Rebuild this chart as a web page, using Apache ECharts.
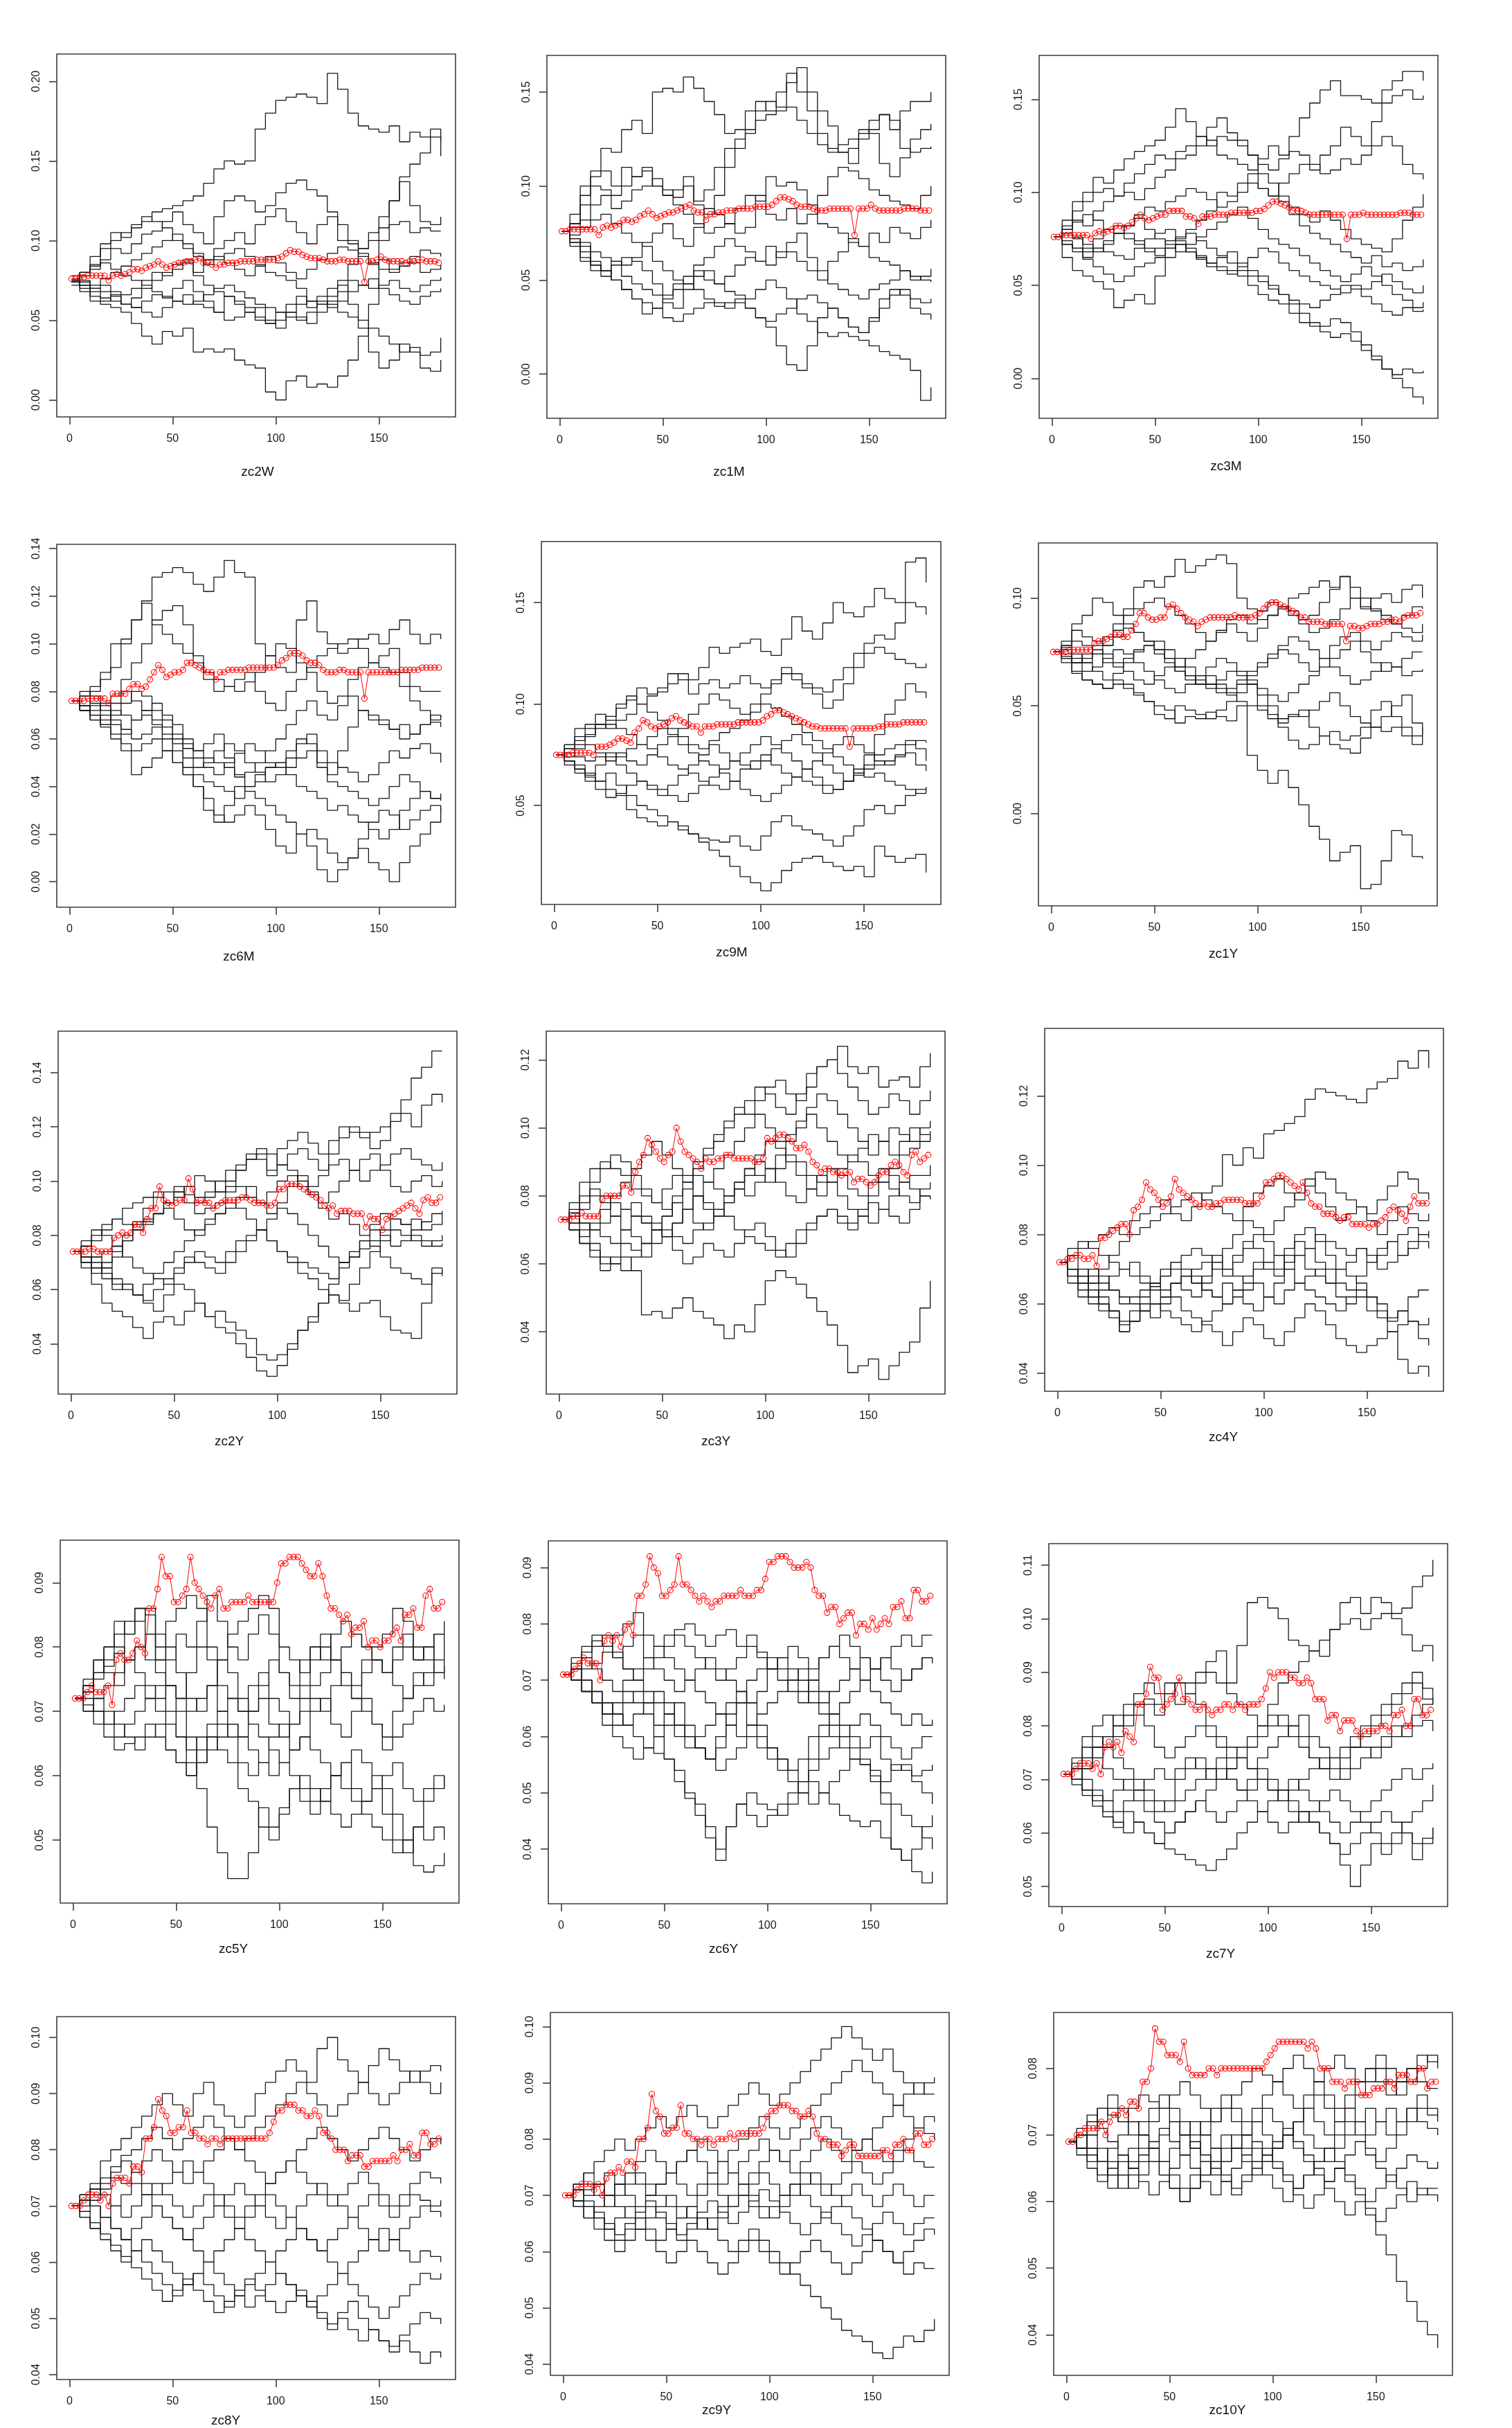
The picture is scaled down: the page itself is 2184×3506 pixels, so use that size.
<!DOCTYPE html>
<html><head><meta charset="utf-8">
<script src="https://cdn.jsdelivr.net/npm/echarts@6/dist/echarts.min.js"></script>
<style>html,body{margin:0;padding:0;background:#fff}#c{width:2184px;height:3506px}</style>
</head><body><div id="c"></div>
<script>
// x positions (time index) of the sampled step paths and of the red estimate
const STEP_X=[1,5,10,15,20,25,30,35,40,45,50,55,60,65,70,75,80,85,90,95,100,105,110,115,120,125,130,135,140,145,150,155,160,165,170,175,180];
const RED_X=[1,3,5,7,9,11,13,15,17,19,21,23,25,27,29,31,33,35,37,39,41,43,45,47,49,51,53,55,57,59,61,63,65,67,69,71,73,75,77,79,81,83,85,87,89,91,93,95,97,99,101,103,105,107,109,111,113,115,117,119,121,123,125,127,129,131,133,135,137,139,141,143,145,147,149,151,153,155,157,159,161,163,165,167,169,171,173,175,177,179];
const X_TICKS=[0,50,100,150];
// all rate values below are in thousandths (0.076 -> 76)

const zc2W_paths=[
[75,80,90,98,105,102,108,112,118,120,122,125,128,136,145,150,148,150,170,180,188,190,192,190,186,205,195,180,172,170,168,172,162,168,165,170,162],
[74,68,62,60,58,55,48,40,35,43,40,45,30,32,30,32,25,22,20,5,0,12,15,8,10,8,15,25,40,60,100,125,140,148,155,165,153],
[76,70,65,62,66,60,58,62,66,64,70,75,68,62,55,50,52,55,50,48,55,60,65,58,62,60,55,52,45,30,20,25,35,30,20,18,25],
[74,72,70,68,65,60,64,70,75,80,85,88,78,72,68,65,60,55,58,50,45,55,60,62,65,70,72,60,50,45,40,35,30,33,28,30,39],
[76,80,85,95,100,105,110,115,112,108,100,95,90,85,88,92,95,90,85,80,78,75,70,62,60,65,75,85,95,105,115,125,137,122,112,110,115],
[72,78,82,88,95,92,98,104,106,112,118,110,105,98,115,125,128,125,118,122,130,136,138,132,128,118,110,100,95,100,108,110,112,105,108,106,106],
[78,75,70,72,68,66,70,75,80,78,82,86,80,88,95,100,105,98,110,115,120,112,105,98,110,115,100,98,92,85,88,82,86,90,94,92,90],
[75,72,68,64,62,60,58,55,52,58,62,66,60,58,55,65,62,58,52,48,50,55,52,48,55,62,68,75,72,70,72,75,70,68,72,75,77],
[74,80,84,86,82,78,75,72,68,65,62,60,62,66,70,72,68,64,60,58,55,52,50,55,60,58,62,68,72,76,70,66,62,60,65,68,70],
[76,74,72,76,80,84,88,92,96,100,104,98,92,88,90,86,82,78,84,90,86,80,76,82,88,92,96,94,90,86,82,80,84,86,80,82,85]];
const zc2W_red=[76,76,77,77,78,78,78,78,78,75,78,79,78,79,80,82,82,81,83,84,85,87,85,83,84,85,86,86,87,87,88,89,86,86,85,83,85,85,86,86,86,87,87,87,87,88,88,88,88,88,89,90,92,94,93,93,91,90,89,89,89,88,87,87,87,88,88,87,87,87,87,74,87,87,88,90,88,87,87,87,87,86,87,87,88,88,87,87,87,86];
const zc2W_yTicks=[0,50,100,150,200];

const zc1M_paths=[
[76,85,100,108,120,118,130,135,128,150,152,150,158,152,145,138,128,130,140,145,140,150,160,150,140,128,120,118,120,128,130,138,135,120,118,120,121],
[76,80,95,100,98,95,100,105,110,100,95,98,105,90,85,95,110,120,130,140,145,142,155,163,150,140,132,118,112,125,135,138,130,140,145,145,150],
[76,78,82,90,95,88,92,98,100,104,98,94,100,92,98,110,120,125,128,135,138,140,142,135,128,122,118,122,125,130,128,112,105,115,125,130,133],
[76,72,70,65,62,60,58,62,70,75,80,72,68,78,88,85,80,75,78,95,85,82,88,80,85,95,105,110,108,104,98,95,92,90,88,95,100],
[76,70,65,58,55,60,52,48,45,42,38,35,45,52,55,48,44,42,40,45,50,46,40,32,28,22,20,22,20,18,15,12,10,8,2,-14,-7],
[76,72,68,60,55,50,45,40,38,35,30,28,32,35,38,36,38,40,35,30,25,15,5,2,15,30,35,30,25,22,30,40,45,42,35,32,29],
[76,80,90,105,108,100,110,105,108,100,95,90,85,80,75,78,80,88,95,92,105,100,102,98,90,80,78,75,70,68,75,70,78,75,72,78,82],
[76,70,60,55,52,58,62,60,55,48,42,45,48,55,50,48,52,58,62,60,68,62,65,60,55,50,60,65,72,68,62,60,58,55,50,52,56],
[76,68,62,58,55,50,45,40,32,35,40,48,52,58,62,68,72,68,65,60,58,65,70,75,62,55,48,45,42,40,45,48,50,55,52,50,49],
[76,74,78,82,85,80,75,70,68,60,55,50,48,45,40,38,35,38,35,30,28,32,35,40,42,38,35,30,25,22,28,35,42,45,40,38,40]];
const zc1M_red=[76,76,77,77,77,77,77,77,77,74,78,79,78,79,80,82,82,81,82,84,85,87,85,83,84,85,86,86,87,88,89,90,87,86,86,82,85,85,86,86,87,87,87,88,88,88,88,89,89,89,89,90,92,94,94,93,92,90,89,89,89,88,87,87,87,88,88,88,88,88,88,74,88,88,88,90,88,87,87,87,87,87,87,88,88,88,88,87,87,87];
const zc1M_yTicks=[0,50,100,150];

const zc3M_paths=[
[76,82,90,95,100,102,98,105,110,115,120,118,122,125,130,128,120,118,115,112,118,125,120,130,140,148,155,160,152,152,150,148,155,160,165,165,160],
[76,78,75,70,68,72,78,82,88,92,90,95,98,102,100,96,92,95,100,105,102,98,105,110,115,112,120,125,135,130,125,138,148,152,155,150,152],
[76,85,95,100,108,105,112,118,122,125,128,135,145,138,130,125,130,128,125,120,115,112,118,122,120,115,110,112,118,115,120,125,130,125,115,110,107],
[76,80,85,82,90,95,98,100,96,102,108,112,118,120,125,135,140,132,128,120,110,105,98,92,88,84,90,85,80,75,72,70,68,75,85,92,99],
[76,65,58,55,52,48,38,42,45,40,55,65,75,80,85,90,100,98,105,110,102,98,95,88,82,78,75,72,68,65,62,66,60,62,58,60,64],
[76,72,70,68,75,80,82,78,74,70,66,70,72,68,65,62,60,58,55,50,45,42,40,35,30,28,25,22,24,20,18,12,5,0,-5,-10,-14],
[76,80,76,72,70,68,66,64,70,75,78,80,74,70,66,62,65,68,62,58,55,50,45,40,35,30,28,32,30,25,15,10,5,2,5,3,4],
[76,74,70,64,60,56,52,55,60,62,65,70,72,68,64,60,58,56,60,65,70,68,62,58,55,52,50,48,46,50,48,52,56,52,48,46,50],
[76,80,84,88,85,80,78,82,86,80,75,72,68,72,76,80,84,88,92,86,80,75,72,70,66,62,58,55,52,56,60,55,50,45,42,38,41],
[76,72,68,65,70,74,78,75,72,68,70,74,76,78,74,70,66,62,58,55,52,48,45,42,40,38,42,45,50,48,44,40,36,34,38,36,37]];
const zc3M_red=[76,76,77,77,77,77,77,77,77,75,78,79,78,79,80,82,82,81,82,84,86,88,86,85,86,87,88,88,90,90,90,90,87,87,86,83,87,87,87,88,88,88,88,89,89,89,89,89,89,90,90,91,93,95,95,94,93,92,90,90,90,89,88,88,88,88,88,88,88,88,88,75,88,88,88,89,88,88,88,88,88,88,88,88,89,89,89,88,88,88];
const zc3M_yTicks=[0,50,100,150];

const zc6M_paths=[
[76,78,82,88,100,102,110,118,128,130,132,130,125,122,128,135,130,128,100,95,90,88,110,118,105,100,96,98,102,104,100,106,110,104,100,104,102],
[76,74,80,85,90,100,110,117,108,104,100,96,92,88,85,82,80,84,88,95,100,98,92,88,80,75,78,85,90,92,95,98,88,82,80,80,80],
[76,72,70,68,75,85,92,100,110,114,116,108,95,85,80,82,85,88,80,75,72,80,85,90,95,98,100,102,98,92,90,88,82,76,72,68,70],
[76,72,68,66,72,70,68,72,75,70,66,60,55,58,62,52,45,40,42,48,50,55,60,58,50,45,55,65,72,70,68,64,66,62,66,67,65],
[76,74,70,66,62,58,55,58,60,55,50,45,40,30,25,32,40,38,35,32,28,25,20,22,18,12,8,10,14,8,5,0,8,15,20,25,31],
[76,72,68,65,60,55,45,48,52,55,50,45,40,35,28,25,28,32,28,22,15,12,20,15,5,0,5,10,18,25,30,28,22,26,30,32,29],
[76,78,75,72,68,64,60,62,65,60,55,48,45,42,40,38,35,40,45,48,50,45,40,38,35,30,32,28,25,22,18,22,30,35,38,35,34],
[76,72,74,70,66,62,68,70,66,62,58,52,48,50,55,58,55,50,46,42,45,48,52,55,48,42,40,38,35,32,35,40,45,42,38,35,37],
[76,80,78,74,70,75,80,78,72,68,60,56,52,48,45,50,54,58,55,50,48,52,58,62,55,50,48,46,42,45,50,55,52,56,58,54,50],
[76,74,72,75,78,80,76,72,68,65,62,58,55,52,50,48,44,46,50,55,60,66,72,76,70,68,74,78,72,68,66,64,60,62,66,70,69]];
const zc6M_red=[76,76,76,76,77,77,77,77,77,75,79,79,79,79,81,83,83,81,82,85,88,91,89,86,87,88,88,89,92,92,91,90,89,88,88,85,88,88,89,89,89,89,89,90,90,90,90,90,90,90,91,93,94,96,96,96,95,93,92,92,91,89,88,88,88,89,89,88,88,88,88,77,88,88,88,88,88,88,88,88,89,89,89,89,89,90,90,90,90,90];
const zc6M_yTicks=[0,20,40,60,80,100,120,140];

const zc9M_paths=[
[75,80,88,90,95,92,98,102,108,105,106,110,115,112,118,128,125,128,130,132,126,124,132,143,136,132,140,150,145,143,148,157,152,150,170,172,160],
[75,78,82,85,90,88,92,95,100,104,108,115,112,105,110,112,108,110,114,110,108,112,118,115,110,108,106,112,118,125,130,134,132,140,150,148,144],
[75,72,68,65,70,74,76,72,70,75,80,84,88,95,100,105,102,98,95,100,105,110,115,112,108,105,98,102,110,118,125,128,125,122,120,118,120],
[75,70,66,62,58,54,56,60,62,58,55,60,65,70,75,80,76,72,70,68,72,78,82,85,80,76,70,66,62,68,75,85,95,102,110,106,103],
[75,72,68,64,62,66,60,55,50,48,45,42,40,36,32,28,25,20,15,12,8,12,18,22,24,25,22,20,18,20,15,30,25,22,24,26,17],
[75,72,70,66,62,58,55,48,44,42,40,42,38,36,34,33,32,35,30,28,35,42,45,40,38,36,33,30,35,40,48,50,46,50,55,58,59],
[75,78,80,84,88,90,88,85,80,78,74,70,68,66,62,60,58,62,68,72,75,70,66,64,62,60,56,58,62,65,68,70,72,74,76,70,67],
[75,76,74,72,74,76,70,66,62,60,58,55,52,56,60,64,68,72,76,80,84,80,76,72,68,64,60,58,62,66,70,75,78,80,82,78,72],
[75,74,78,80,76,72,74,78,80,84,88,85,80,76,72,70,66,62,58,55,52,56,60,64,68,72,76,80,84,80,76,72,70,75,80,82,81],
[75,80,84,88,90,94,100,104,100,96,92,88,84,80,78,82,86,88,92,96,100,98,94,90,86,82,78,74,70,66,64,66,62,60,58,56,59]];
const zc9M_red=[75,75,75,75,76,76,76,76,76,75,79,79,79,80,81,83,83,82,81,86,88,92,91,89,88,89,90,91,93,94,92,91,90,89,89,86,89,89,89,90,90,90,90,90,91,91,91,91,91,91,92,94,95,97,97,96,95,94,93,92,91,90,89,89,88,88,88,88,88,88,88,79,88,88,88,88,88,88,89,89,90,90,90,90,91,91,91,91,91,91];
const zc9M_yTicks=[50,100,150];

const zc1Y_paths=[
[75,78,85,82,80,78,85,95,105,108,105,110,118,112,115,118,120,116,100,95,90,92,95,100,102,105,108,105,110,100,95,100,102,98,104,106,100],
[75,72,65,62,60,58,60,58,55,52,50,48,42,45,44,47,45,43,50,27,20,14,20,12,4,-6,-12,-22,-18,-15,-35,-33,-22,-8,-10,-20,-21],
[75,80,88,92,100,98,92,88,84,80,76,72,68,64,60,58,62,66,64,60,55,50,42,45,48,40,36,32,30,28,35,40,45,50,55,42,37],
[75,70,66,62,60,58,62,60,56,52,46,44,50,48,46,44,48,52,56,60,50,44,40,34,30,32,36,38,34,36,40,48,52,45,40,36,40],
[75,78,74,70,66,62,65,70,75,78,80,76,72,68,64,60,58,55,52,50,48,46,44,46,45,48,52,56,50,45,42,40,38,40,36,32,36],
[75,72,70,74,78,82,88,92,95,98,100,96,92,88,84,80,85,90,92,88,94,98,96,92,88,84,86,90,95,100,96,94,90,88,92,96,95],
[75,76,72,70,74,78,82,86,84,80,76,72,68,72,76,80,84,88,84,80,86,92,96,94,90,92,98,104,110,105,100,95,92,88,86,84,88],
[75,74,70,66,68,72,76,74,70,66,62,58,56,60,64,68,72,70,66,62,58,55,52,56,60,64,68,72,76,80,75,70,66,68,72,75,75],
[75,77,80,78,74,70,68,72,76,78,74,70,66,64,62,60,56,58,62,66,70,74,78,82,80,76,72,68,64,60,62,66,70,68,64,66,67],
[75,73,70,72,76,74,70,66,62,60,64,68,66,62,60,64,60,56,60,64,68,72,76,74,70,66,72,78,82,84,80,76,80,84,82,80,83]];
const zc1Y_red=[75,75,75,75,76,76,76,76,76,76,79,80,80,81,82,83,83,82,82,85,88,93,93,91,90,90,91,91,96,97,95,93,91,90,89,87,89,90,91,91,91,91,91,91,92,91,91,91,91,92,93,95,97,98,98,97,96,95,94,93,91,91,89,89,89,89,88,88,88,88,88,80,87,87,86,86,87,88,88,88,89,89,90,90,89,91,92,92,92,93];
const zc1Y_yTicks=[0,50,100];

const zc2Y_paths=[
[74,72,68,70,74,78,82,85,88,92,96,98,94,96,100,104,106,108,110,104,112,115,118,114,110,115,120,118,116,118,120,125,130,138,142,148,148],
[74,76,80,84,86,90,92,94,96,92,94,98,102,100,96,98,104,110,108,102,106,110,112,108,104,110,116,120,118,112,115,122,125,120,128,132,129],
[74,70,66,68,72,78,85,90,94,96,98,95,92,94,96,100,104,108,112,110,106,104,100,98,102,106,108,104,100,104,106,110,112,108,106,104,107],
[74,72,70,66,62,60,58,62,66,70,74,78,82,86,88,90,94,98,92,88,92,98,102,96,92,96,100,104,108,110,104,98,96,100,102,98,100],
[74,68,62,55,52,50,46,42,48,50,47,52,55,50,46,44,40,35,30,28,32,38,45,48,55,62,68,72,78,82,80,76,78,82,85,88,89],
[74,72,68,64,60,62,58,55,52,58,62,60,55,50,52,48,45,42,36,34,36,40,45,50,55,58,55,52,55,56,50,45,44,42,55,68,65],
[74,76,72,68,64,62,58,56,60,64,68,72,70,68,66,70,74,78,82,78,74,70,66,64,60,58,56,62,68,74,78,82,80,78,76,78,80],
[74,78,82,80,76,72,68,66,64,62,66,70,74,72,70,74,78,80,82,86,90,88,84,80,76,72,70,72,75,78,82,86,84,80,78,76,77],
[74,70,72,74,76,80,84,86,88,90,86,82,80,84,88,92,90,86,82,78,74,72,70,68,66,64,70,74,78,76,72,68,66,64,62,66,67],
[74,76,78,82,86,84,82,84,88,92,96,92,88,90,92,96,98,94,92,96,100,102,98,95,90,86,88,84,80,84,88,86,84,86,82,84,88]];
const zc2Y_red=[74,74,74,74,75,75,74,74,74,74,79,80,81,80,81,84,84,81,86,90,90,98,93,92,91,92,93,93,101,97,92,93,92,92,90,91,92,93,93,93,93,94,94,93,92,92,92,91,91,92,97,97,99,99,99,98,97,96,95,94,93,91,90,91,88,89,89,89,88,88,88,83,87,86,86,82,86,87,88,89,90,91,92,90,88,93,94,92,92,94];
const zc2Y_yTicks=[40,60,80,100,120,140];

const zc3Y_paths=[
[73,76,80,84,88,92,90,86,82,78,76,80,84,88,92,96,100,104,108,112,110,106,104,110,116,118,120,124,118,116,118,112,114,115,112,118,122],
[73,70,68,72,76,80,84,88,92,96,92,88,86,90,94,98,102,106,104,108,112,114,110,108,112,118,120,116,112,108,104,106,110,108,104,108,111],
[73,75,78,82,80,78,76,74,72,70,74,78,76,80,84,88,92,96,100,104,100,96,98,102,106,110,108,104,100,96,92,96,100,98,96,100,102],
[73,72,70,66,62,60,58,62,66,70,68,72,76,72,70,74,78,82,80,84,88,92,96,100,104,100,96,92,90,94,98,96,92,96,100,98,99],
[73,70,66,62,58,60,62,58,45,46,44,47,50,46,44,42,38,42,40,48,55,58,56,54,50,46,42,36,28,30,32,26,30,34,37,47,55],
[73,70,66,64,60,62,66,64,62,66,70,68,66,70,72,76,74,70,68,66,64,62,66,70,72,74,76,72,70,74,78,76,74,72,76,80,80],
[73,75,72,70,68,66,70,74,72,70,68,64,60,62,66,64,62,66,70,72,68,64,62,66,70,74,76,74,72,76,80,84,82,80,78,82,84],
[73,78,84,88,90,88,86,82,80,78,82,86,84,80,76,74,78,82,86,90,88,84,80,78,82,86,84,80,76,74,72,76,80,84,86,86,89],
[73,72,76,80,78,74,70,68,66,70,74,78,82,86,84,82,80,84,88,92,96,94,90,86,82,80,84,88,92,90,86,84,88,92,94,96,98],
[73,74,72,70,72,74,76,78,74,72,68,72,76,80,78,76,80,84,88,86,84,88,92,90,86,84,88,86,82,80,84,88,86,84,82,80,79]];
const zc3Y_red=[73,73,73,74,74,75,74,74,74,74,79,80,80,80,80,83,83,81,87,90,92,97,95,93,91,90,92,93,100,96,93,92,91,90,88,91,90,90,91,91,92,92,91,91,91,91,91,90,90,91,97,96,97,98,98,97,96,94,94,95,93,90,89,87,88,88,87,87,86,87,87,84,85,85,84,83,84,86,87,87,89,90,89,87,86,92,93,90,91,92];
const zc3Y_yTicks=[40,60,80,100,120];

const zc4Y_paths=[
[72,74,76,78,80,82,80,84,86,88,90,86,84,88,92,94,103,100,105,102,109,110,112,114,119,122,121,120,119,118,122,124,125,130,128,133,128],
[72,70,68,66,70,74,78,80,82,84,86,88,90,92,90,88,86,84,88,92,94,96,92,90,94,98,96,92,90,88,86,90,94,98,96,92,90],
[72,68,64,62,60,58,55,58,62,66,70,72,70,68,66,72,76,80,84,82,80,84,88,92,96,92,88,84,86,88,84,80,84,88,86,84,86],
[72,66,62,60,58,56,52,55,58,60,62,66,64,62,68,72,70,74,78,76,72,70,74,78,76,80,78,76,74,76,72,74,78,80,82,80,81],
[72,74,70,68,66,64,60,62,64,66,68,70,68,66,64,62,60,64,68,72,70,68,72,74,70,68,66,70,72,76,74,70,72,74,76,78,76],
[72,70,68,64,60,58,54,55,58,60,58,56,54,52,55,58,60,62,64,66,62,60,64,66,68,70,66,62,60,62,58,56,55,58,62,64,64],
[72,70,66,62,64,68,70,72,68,66,64,66,68,70,72,74,70,68,66,70,72,74,70,66,64,62,60,58,62,64,62,58,52,44,40,42,39],
[72,68,66,70,68,64,62,60,58,56,60,62,58,56,54,52,48,52,56,54,50,48,52,56,60,58,54,50,48,46,48,50,52,54,55,50,48],
[72,70,68,66,62,58,52,55,60,65,68,72,74,76,74,70,68,72,76,80,78,74,76,80,82,78,74,70,68,66,62,60,56,58,55,54,56],
[72,76,78,76,74,72,70,68,66,64,62,66,68,66,64,62,66,64,60,58,62,66,70,74,76,72,70,66,64,68,72,76,78,74,78,80,79]];
const zc4Y_red=[72,72,73,73,74,74,73,73,74,71,79,79,80,81,82,83,83,80,87,88,90,95,93,92,90,88,89,91,96,93,92,91,90,89,88,89,88,88,89,89,90,90,90,90,90,89,89,89,89,91,95,95,96,97,97,96,95,94,93,95,92,89,88,88,86,86,86,85,84,85,85,83,83,83,83,82,83,83,84,85,87,88,87,86,84,88,91,89,89,89];
const zc4Y_yTicks=[40,60,80,100,120];

const zc5Y_paths=[
[72,74,78,80,84,82,86,85,80,84,86,88,86,80,78,82,84,86,88,86,80,78,76,80,78,82,84,82,80,78,76,80,82,78,80,82,84],
[72,73,76,80,82,84,86,82,78,80,76,72,70,74,78,76,72,70,74,78,76,72,74,78,80,78,76,74,78,80,82,86,84,80,78,82,78],
[72,75,78,76,74,78,80,78,76,74,72,76,80,78,74,72,70,74,76,72,70,68,72,74,76,78,74,72,76,78,76,74,72,74,76,78,76],
[72,70,72,74,76,78,80,82,78,74,72,70,72,74,70,68,66,70,72,68,66,68,70,72,70,74,76,72,70,68,66,70,72,76,74,76,75],
[72,71,70,68,66,68,70,72,74,70,66,62,64,66,68,66,62,60,62,66,68,64,66,70,72,68,66,70,72,68,64,66,68,70,72,70,71],
[72,74,76,78,80,78,76,74,72,74,70,66,58,52,48,44,44,48,55,52,55,58,60,58,56,54,52,54,56,60,58,54,50,52,56,58,60],
[72,70,68,66,64,65,66,68,66,64,62,60,62,66,64,62,58,56,52,50,54,58,56,54,56,60,62,58,56,58,60,62,58,56,58,60,58],
[72,72,70,68,70,72,74,72,70,68,66,64,66,68,70,72,70,68,66,64,62,60,58,56,58,60,62,64,62,58,54,50,48,52,50,52,50],
[72,74,72,70,68,66,64,66,68,64,62,60,62,64,66,68,66,64,62,60,62,64,66,64,62,60,58,56,54,52,50,48,50,46,45,46,48],
[72,73,75,77,79,82,84,86,82,78,82,80,84,88,84,80,78,82,85,82,76,74,78,80,82,78,80,82,80,78,76,78,80,78,80,76,77]];
const zc5Y_red=[72,72,72,73,74,73,73,73,74,71,78,79,78,78,79,81,80,79,86,86,89,94,91,91,87,87,88,89,94,90,89,88,87,86,88,89,86,86,87,87,87,87,88,87,87,87,87,87,87,90,93,93,94,94,94,93,92,91,91,93,91,88,86,86,85,84,85,82,83,83,84,80,81,81,80,81,81,82,83,81,85,85,86,83,83,88,89,86,86,87];
const zc5Y_yTicks=[50,60,70,80,90];

const zc6Y_paths=[
[71,74,76,78,76,78,80,82,78,76,78,79,80,78,76,78,79,76,78,75,72,74,76,74,72,74,76,78,76,74,72,74,76,78,76,78,78],
[71,72,74,76,78,75,72,70,72,74,76,78,76,74,72,70,72,74,76,74,72,70,68,66,70,74,76,74,72,70,72,74,72,70,72,74,74],
[71,70,72,73,75,74,76,78,74,72,70,68,70,72,74,72,70,68,66,68,72,74,72,70,68,66,68,70,72,74,72,70,68,70,72,74,73],
[71,70,68,66,64,66,68,66,64,62,64,66,62,58,56,60,64,66,62,60,58,56,54,56,60,62,64,66,68,70,68,66,64,62,64,62,63],
[71,72,70,68,66,64,62,60,58,57,56,54,50,48,44,40,44,48,46,44,46,48,50,52,54,56,58,60,62,64,62,60,58,56,58,60,60],
[71,70,68,66,64,62,66,68,66,60,56,52,49,46,42,38,44,48,50,48,47,46,48,50,52,50,48,46,45,44,45,42,40,38,40,44,46],
[71,72,70,68,66,64,62,64,66,68,66,62,60,58,56,54,56,58,60,58,56,54,52,50,48,50,52,54,56,55,53,52,55,54,52,50,48],
[71,70,68,66,62,60,58,56,58,60,62,60,58,60,62,64,66,68,66,62,58,56,54,52,56,60,62,60,58,56,54,48,40,38,36,34,36],
[71,72,74,72,70,68,70,72,74,76,74,72,70,68,66,64,62,60,62,64,66,68,70,72,70,68,64,62,60,58,60,56,54,55,53,54,55],
[71,73,75,77,76,74,72,70,68,66,64,62,60,58,56,58,62,66,70,72,74,72,70,68,66,64,60,58,56,55,52,50,48,46,44,42,40]];
const zc6Y_red=[71,71,71,72,73,74,73,73,73,70,77,78,77,78,76,79,80,78,85,85,87,92,90,89,85,85,86,87,92,87,87,86,85,84,85,84,83,84,84,85,85,85,85,86,85,85,85,86,86,88,91,91,92,92,92,91,90,90,90,91,90,86,85,85,82,83,83,80,81,82,82,78,80,80,79,81,79,80,81,80,83,83,84,81,81,86,86,84,84,85];
const zc6Y_yTicks=[40,50,60,70,80,90];

const zc7Y_paths=[
[71,74,78,80,82,80,82,84,85,84,86,88,88,90,92,94,88,95,103,104,102,100,96,95,94,93,98,103,104,101,104,103,101,102,106,108,111],
[71,72,74,76,78,82,84,86,88,86,88,84,86,88,90,88,86,84,82,80,84,88,90,92,94,96,98,99,100,98,100,101,100,97,94,95,92],
[71,70,72,74,76,78,80,82,84,82,86,88,86,84,80,78,76,74,72,74,76,78,80,82,78,76,74,72,76,80,82,84,86,88,90,87,86],
[71,70,68,67,66,68,70,68,66,64,66,70,72,74,72,70,72,74,76,78,80,82,80,78,74,72,70,74,76,78,80,82,84,86,88,85,84],
[71,69,67,65,63,61,64,62,60,58,60,62,64,66,68,70,72,74,72,70,68,66,68,70,72,74,72,70,72,74,76,78,80,78,80,81,79],
[71,70,68,66,64,62,60,62,60,58,57,56,55,54,53,55,57,60,62,64,66,68,70,68,66,64,62,60,62,64,66,68,70,72,70,72,73],
[71,72,70,68,66,64,66,68,70,72,70,72,74,72,70,72,70,68,70,72,70,68,66,64,62,60,58,54,50,54,58,56,58,60,55,58,61],
[71,73,76,78,76,74,72,70,68,66,64,66,68,70,72,74,70,68,66,64,62,60,62,64,62,60,58,56,58,60,62,64,62,60,58,59,61],
[71,70,72,74,72,70,68,66,64,62,60,62,64,66,64,62,64,66,68,70,68,66,64,62,64,66,68,66,64,62,60,58,60,62,64,66,69],
[71,72,74,76,78,80,82,84,80,76,74,76,78,80,78,76,74,76,78,80,82,80,78,76,74,72,74,76,78,76,74,76,78,80,82,84,86]];
const zc7Y_red=[71,71,71,72,73,73,73,72,73,71,76,77,76,77,75,79,78,77,84,84,86,91,89,89,83,84,85,86,89,85,85,84,83,83,84,83,82,83,83,84,84,83,84,84,83,84,84,84,85,87,90,89,90,90,90,89,89,88,88,89,88,85,85,85,81,82,82,79,81,81,81,79,78,79,79,79,79,80,80,79,82,82,83,80,80,85,85,82,82,83];
const zc7Y_yTicks=[50,60,70,80,90,100,110];

const zc8Y_paths=[
[70,72,74,78,80,82,84,86,88,90,88,86,90,92,88,86,84,86,90,92,94,96,94,92,98,100,96,94,92,95,98,96,94,92,94,95,94],
[70,71,73,75,77,79,80,82,84,82,80,82,84,86,84,82,80,82,84,86,88,90,92,90,88,86,88,90,92,90,88,90,92,94,92,90,92],
[70,69,71,73,75,74,76,78,80,78,76,74,76,78,80,82,80,78,76,74,76,78,80,82,84,82,80,78,80,82,84,82,80,78,80,82,81],
[70,68,66,68,70,72,74,72,70,68,66,64,66,68,70,72,74,72,70,68,66,68,70,72,74,72,70,68,70,72,70,68,70,72,71,70,71],
[70,68,66,64,62,60,62,64,62,60,58,56,58,60,62,64,66,64,62,60,62,64,66,64,62,60,58,60,62,64,66,64,62,60,62,61,60],
[70,71,70,68,66,64,62,60,58,56,54,56,58,56,54,52,54,56,58,60,58,56,54,52,54,56,58,56,54,52,50,52,54,56,58,57,58],
[70,69,67,65,63,61,59,57,55,53,55,57,55,53,51,53,55,57,55,53,51,53,55,53,51,49,51,53,50,48,46,45,47,49,51,50,49],
[70,72,70,68,66,64,66,68,70,68,66,64,62,60,58,56,54,52,54,56,58,56,54,52,50,48,50,48,46,48,46,44,46,44,42,44,43],
[70,71,73,72,70,68,70,72,74,72,70,68,70,72,70,68,66,68,70,72,70,68,66,64,62,64,66,68,66,64,62,64,66,68,70,69,68],
[70,70,72,74,76,78,76,74,72,74,76,78,76,74,72,70,68,70,72,74,76,78,76,74,72,70,72,74,76,74,72,70,72,74,76,75,74]];
const zc8Y_red=[70,70,70,71,72,72,72,71,72,70,74,75,75,75,74,77,77,76,82,82,84,89,87,86,83,83,84,84,87,83,83,82,82,81,82,82,81,82,82,82,82,82,82,82,82,82,82,82,83,85,87,87,88,88,88,87,87,86,86,87,86,83,83,82,80,80,80,78,79,79,79,77,77,78,78,78,78,78,79,78,80,80,81,79,79,83,83,81,81,82];
const zc8Y_yTicks=[40,50,60,70,80,90,100];

const zc9Y_paths=[
[70,72,74,76,78,80,78,80,82,84,82,84,86,84,82,84,86,88,90,88,86,88,90,92,94,96,98,100,98,96,94,96,92,90,88,90,91],
[70,71,70,72,74,72,74,76,78,76,74,76,78,80,78,76,78,80,82,84,82,80,82,84,86,88,90,92,94,92,90,88,86,88,90,88,88],
[70,69,71,72,70,72,74,72,70,72,74,76,78,76,74,72,74,76,78,80,78,76,78,80,82,84,82,80,78,80,82,84,86,84,82,84,83],
[70,68,66,68,70,72,70,68,70,72,74,72,70,72,74,76,74,72,74,76,78,76,74,76,78,80,78,76,78,80,78,76,78,80,82,81,80],
[70,71,72,70,68,70,72,74,72,70,68,66,68,70,72,70,68,70,72,74,72,70,72,74,72,70,72,74,76,74,72,74,76,78,76,75,75],
[70,69,68,66,64,66,68,66,64,62,64,66,68,66,64,66,68,70,68,66,68,70,72,70,68,66,68,70,72,70,68,70,72,70,68,70,70],
[70,71,69,67,65,63,65,67,69,67,65,63,65,67,69,67,65,67,69,71,69,67,65,63,65,67,65,63,61,63,65,67,65,63,65,66,66],
[70,68,66,64,62,60,62,64,62,60,58,60,62,60,58,56,58,60,62,60,58,56,58,60,62,60,58,56,58,60,62,60,58,56,58,57,57],
[70,69,68,66,64,62,64,66,68,66,64,62,64,66,64,62,60,62,64,62,60,58,56,54,52,50,48,46,45,44,42,41,43,45,44,46,48],
[70,72,74,72,70,68,66,64,66,68,70,68,66,64,66,68,70,72,70,68,66,68,70,72,74,72,70,68,66,64,62,60,58,60,62,64,63]];
const zc9Y_red=[70,70,70,71,72,72,72,71,72,70,73,74,74,75,74,76,76,75,80,80,82,88,85,84,81,81,82,82,86,81,81,80,80,79,80,80,79,80,80,80,81,80,81,81,81,81,81,81,82,84,85,85,86,86,86,85,85,84,84,85,84,81,80,80,79,79,79,77,78,79,79,77,77,77,77,77,77,78,78,77,79,79,80,78,78,81,81,79,79,80];
const zc9Y_yTicks=[40,50,60,70,80,90,100];

const zc10Y_paths=[
[69,70,72,74,73,72,74,76,75,74,76,78,76,74,72,74,76,78,80,79,78,80,82,80,78,80,82,80,78,80,82,80,78,80,82,81,80],
[69,68,70,72,74,72,70,72,74,76,74,72,70,72,74,76,74,72,74,76,78,76,74,76,78,76,74,76,78,80,78,76,78,80,78,77,77],
[69,70,68,66,64,66,68,70,68,66,68,70,72,70,68,66,68,70,72,70,68,70,72,74,72,70,72,74,72,70,72,74,72,74,76,74,73],
[69,68,67,66,68,70,72,70,68,66,64,62,64,66,68,70,68,66,64,66,68,70,72,70,68,66,68,70,72,74,72,70,72,74,72,71,70],
[69,67,65,63,65,67,65,63,61,63,65,67,69,67,65,63,61,63,65,67,69,71,69,67,65,63,65,67,69,67,65,63,65,67,66,65,66],
[69,70,68,66,64,62,64,66,68,70,72,70,68,66,64,66,68,70,72,74,72,70,68,66,64,62,60,58,60,58,55,52,48,45,42,40,38],
[69,71,73,71,69,67,65,67,69,71,69,67,65,63,61,63,65,67,69,67,65,63,61,59,61,63,65,63,61,59,57,59,61,63,61,62,62],
[69,68,66,64,62,64,66,68,66,64,62,60,62,64,66,68,70,68,66,64,62,60,62,64,66,68,70,72,70,68,66,68,70,72,74,73,72],
[69,70,72,74,76,74,72,70,72,74,72,70,68,70,72,74,72,70,68,66,68,70,72,74,76,74,72,74,76,78,80,78,76,78,80,82,81],
[69,68,70,68,66,64,62,64,66,64,62,60,62,64,66,64,62,64,66,68,66,64,62,64,66,68,66,64,62,60,62,64,62,60,62,61,60]];
const zc10Y_red=[69,69,70,70,71,71,71,71,72,70,72,73,73,74,73,75,75,74,78,78,80,86,84,84,82,82,82,81,84,80,79,79,79,79,80,80,79,80,80,80,80,80,80,80,80,80,80,80,81,82,83,84,84,84,84,84,84,84,83,84,83,80,80,80,78,78,78,77,78,78,78,76,76,76,77,77,77,78,78,77,79,79,79,78,78,80,80,77,78,78];
const zc10Y_yTicks=[40,50,60,70,80];

// layout: plot box [left, top, width, height] in px, y range (thousandths), label centre
const PANELS=[
 {name:'zc2W', paths:zc2W_paths, red:zc2W_red, yTicks:zc2W_yTicks, box:[82,78,576,524], y:[-10.65,217.1], t:[372,682]},
 {name:'zc1M', paths:zc1M_paths, red:zc1M_red, yTicks:zc1M_yTicks, box:[790,80,576,524], y:[-23.5,169.5], t:[1053,682]},
 {name:'zc3M', paths:zc3M_paths, red:zc3M_red, yTicks:zc3M_yTicks, box:[1501,80,576,524], y:[-21.46,173.6], t:[1771,674]},
 {name:'zc6M', paths:zc6M_paths, red:zc6M_red, yTicks:zc6M_yTicks, box:[82,786,576,524], y:[-10.73,141.8], t:[345,1382]},
 {name:'zc9M', paths:zc9M_paths, red:zc9M_red, yTicks:zc9M_yTicks, box:[782,782,577,524], y:[1.28,180.1], t:[1057,1376]},
 {name:'zc1Y', paths:zc1Y_paths, red:zc1Y_red, yTicks:zc1Y_yTicks, box:[1500,784,576,524], y:[-42.9,125.6], t:[1767,1378]},
 {name:'zc2Y', paths:zc2Y_paths, red:zc2Y_red, yTicks:zc2Y_yTicks, box:[84,1489,576,524], y:[21.47,155.3], t:[331,2082]},
 {name:'zc3Y', paths:zc3Y_paths, red:zc3Y_red, yTicks:zc3Y_yTicks, box:[789,1489,576,524], y:[21.68,128.45], t:[1034,2082]},
 {name:'zc4Y', paths:zc4Y_paths, red:zc4Y_red, yTicks:zc4Y_yTicks, box:[1509,1485,576,524], y:[34.79,139.44], t:[1767,2076]},
 {name:'zc5Y', paths:zc5Y_paths, red:zc5Y_red, yTicks:zc5Y_yTicks, box:[87,2224,576,524], y:[40.18,96.61], t:[337,2815]},
 {name:'zc6Y', paths:zc6Y_paths, red:zc6Y_red, yTicks:zc6Y_yTicks, box:[792,2225,576,524], y:[30.3,94.75], t:[1045,2815]},
 {name:'zc7Y', paths:zc7Y_paths, red:zc7Y_red, yTicks:zc7Y_yTicks, box:[1515,2229,576,524], y:[46.25,114.03], t:[1763,2822]},
 {name:'zc8Y', paths:zc8Y_paths, red:zc8Y_red, yTicks:zc8Y_yTicks, box:[82,2912,576,524], y:[39.1,103.7], t:[326,3496]},
 {name:'zc9Y', paths:zc9Y_paths, red:zc9Y_red, yTicks:zc9Y_yTicks, box:[795,2906,576,524], y:[38.0,102.5], t:[1035,3481]},
 {name:'zc10Y', paths:zc10Y_paths, red:zc10Y_red, yTicks:zc10Y_yTicks, box:[1522,2906,576,524], y:[33.9,88.4], t:[1773,3481]}
];

const FONT='"Liberation Sans", Arial, Helvetica, sans-serif';
const AXIS_COLOR='#3c3c3c';
const grid=[], xAxis=[], yAxis=[], series=[], graphic=[];
PANELS.forEach((p,i)=>{
  grid.push({left:p.box[0], top:p.box[1], width:p.box[2], height:p.box[3], show:true, borderColor:AXIS_COLOR, borderWidth:1.6, backgroundColor:'transparent'});
  xAxis.push({type:'value', gridIndex:i, position:'bottom', min:-6.16, max:187.16, axisLine:{show:false, onZero:false}, splitLine:{show:false},
    axisTick:{show:true, customValues:X_TICKS, length:11, lineStyle:{color:AXIS_COLOR, width:1.6}},
    axisLabel:{customValues:X_TICKS, fontSize:16, color:'#1a1a1a', margin:24, fontFamily:FONT}});
  yAxis.push({type:'value', gridIndex:i, position:'left', min:p.y[0], max:p.y[1], axisLine:{show:false, onZero:false}, splitLine:{show:false},
    axisTick:{show:true, customValues:p.yTicks, length:11, lineStyle:{color:AXIS_COLOR, width:1.6}},
    axisLabel:{customValues:p.yTicks, rotate:90, fontSize:16, color:'#1a1a1a', margin:21, fontFamily:FONT,
      formatter:v=>(v/1000).toFixed(2)}});
  p.paths.forEach(path=>{
    series.push({type:'line', xAxisIndex:i, yAxisIndex:i, step:'end', symbol:'none', silent:true, z:2,
      lineStyle:{color:'#151515', width:1.3},
      data:path.map((v,k)=>[STEP_X[k],v]).filter(d=>d[0]!==undefined)});
  });
  series.push({type:'line', xAxisIndex:i, yAxisIndex:i, symbol:'circle', symbolSize:8, silent:true, z:3,
    itemStyle:{color:'rgba(255,0,0,0)', borderColor:'#ff0000', borderWidth:1.1},
    lineStyle:{color:'#ff0000', width:1},
    data:p.red.map((v,k)=>[RED_X[k],v]).filter(d=>d[0]!==undefined)});
  graphic.push({type:'text', x:p.t[0], y:p.t[1], style:{text:p.name, font:'19px '+FONT, fill:'#111', align:'center', verticalAlign:'middle'}});
});

const chart=echarts.init(document.getElementById('c'), null, {renderer:'canvas'});
chart.setOption({backgroundColor:'#ffffff', animation:false, grid, xAxis, yAxis, series, graphic});
</script>
</body></html>
